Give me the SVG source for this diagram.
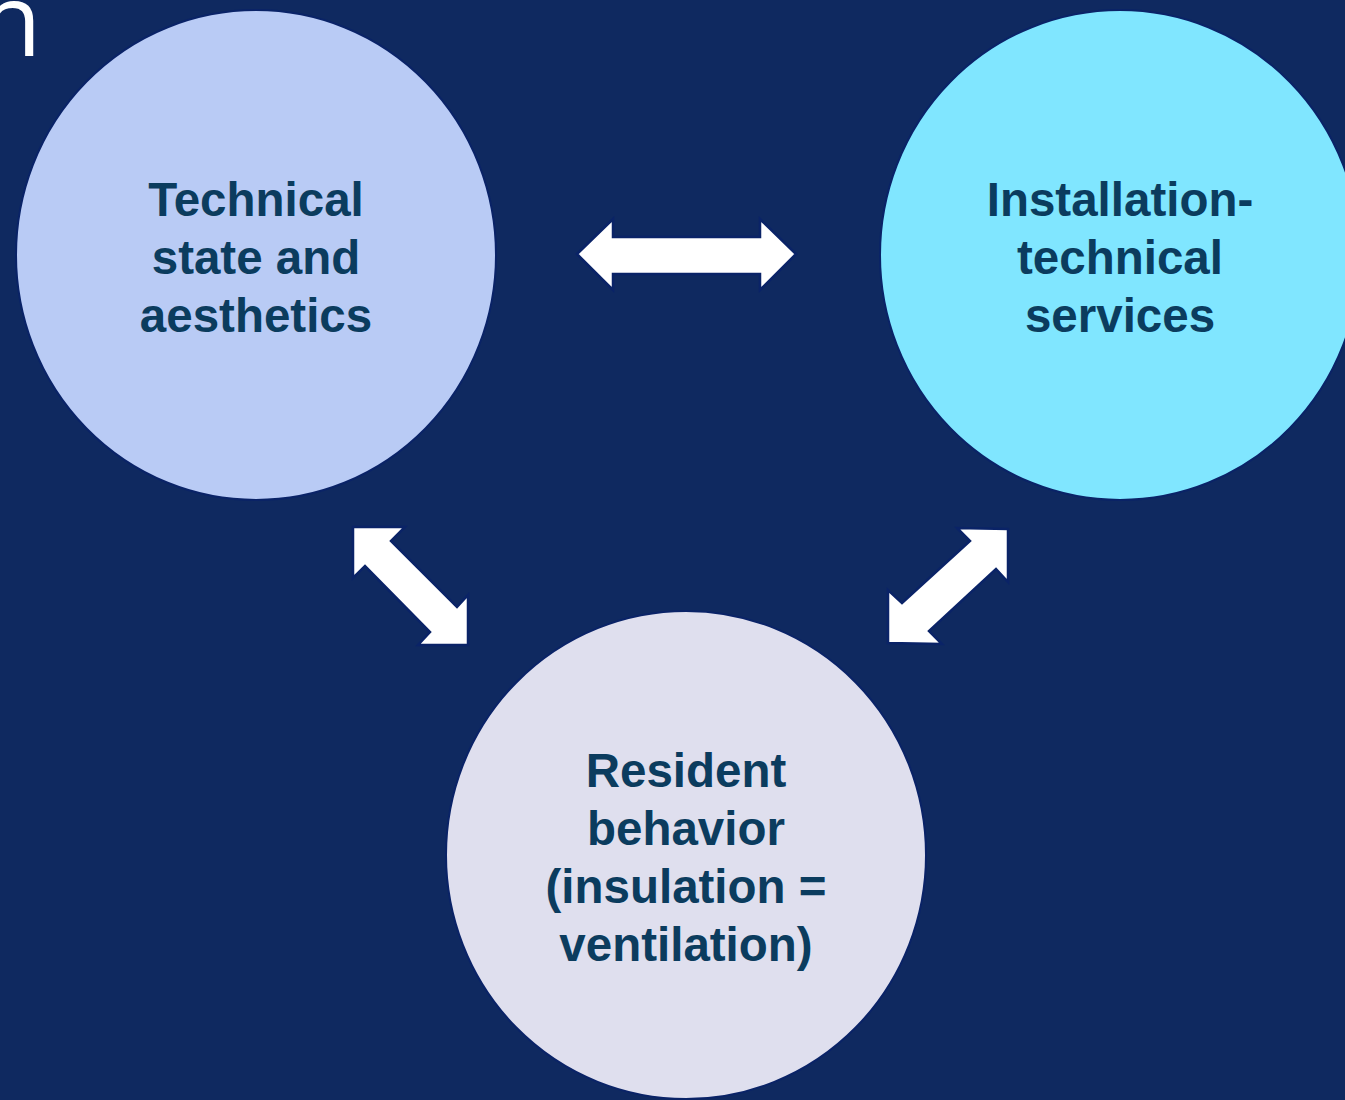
<svg xmlns="http://www.w3.org/2000/svg" width="1345" height="1100" viewBox="0 0 1345 1100">
<style>
.bg{fill:#0f2960}
.node{stroke:#0a2367;stroke-width:2}
.lbl{font-family:"Liberation Sans",Arial,sans-serif;font-weight:bold;font-size:47.5px;fill:#0b3c5e;text-anchor:middle}
.arr{fill:#ffffff;stroke:#0a2367;stroke-width:2.5;stroke-linejoin:miter}
</style>
<rect class="bg" x="0" y="0" width="1345" height="1100"/>
<text x="-20" y="56" font-family="'Open Sans',sans-serif" font-weight="400" font-size="100" fill="#ffffff">n</text>
<g id="node-technical">
<ellipse class="node" cx="256" cy="255" rx="240" ry="245" fill="#b9cbf5"/>
<text class="lbl"><tspan x="256" y="216">Technical</tspan><tspan x="256" y="274">state and</tspan><tspan x="256" y="332">aesthetics</tspan></text>
</g>
<g id="node-installation">
<ellipse class="node" cx="1120" cy="255" rx="240" ry="245" fill="#80e6ff"/>
<text class="lbl"><tspan x="1120" y="216">Installation-</tspan><tspan x="1120" y="274">technical</tspan><tspan x="1120" y="332">services</tspan></text>
</g>
<g id="node-resident">
<ellipse class="node" cx="686" cy="855" rx="240" ry="244" fill="#dfdfee"/>
<text class="lbl"><tspan x="686" y="787">Resident</tspan><tspan x="686" y="845">behavior</tspan><tspan x="686" y="903">(insulation =</tspan><tspan x="686" y="961">ventilation)</tspan></text>
</g>
<g id="connectors">
<polygon class="arr" points="577,254 613,219 613,237 760,237 760,219 796,254 760,290 760,274 613,274 613,290"/>
<polygon class="arr" points="353,527 405,527 391,541 457,607 468,595 468,645 418,645 430,632 365,566 353,578"/>
<polygon class="arr" points="1008,529 1008,582 996,569 929,631 942,644 888,643 888,590 902,603 970,541 957,528"/>
</g>
</svg>
